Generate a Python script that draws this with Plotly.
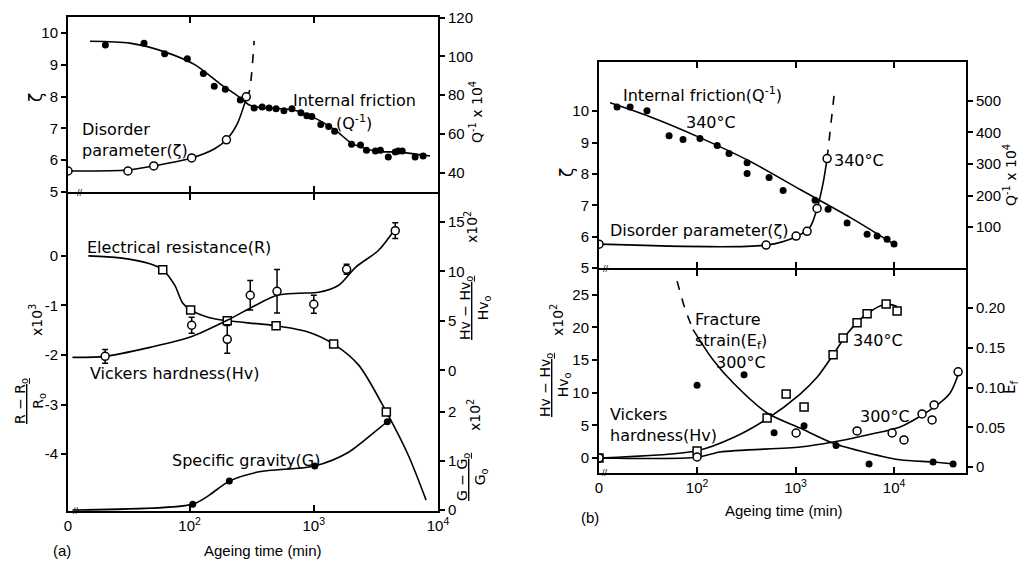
import math
import plotly.graph_objects as go

W, H = 1022, 563

# ---------------- time-axis zero positions (broken log axes) ----------------
A_ZERO = 10.5     # "0" on the ageing-time axis of panel (a)
B_ZERO = 10.1     # "0" on the ageing-time axis of panel (b)

# ======================= Panel (a), upper =======================
# internal friction Q^-1 (x1e4), filled dots, right axis
a_if_t = [21, 43, 63, 96, 129, 158, 194, 256, 331, 384, 437, 497, 575, 667, 787,
          879, 964, 1138, 1318, 1472, 2014, 2377, 2655, 3133, 3436, 3981, 4529,
          4786, 5152, 6546, 7586]
a_if_q = [105.8, 106.8, 101.3, 98.7, 91.1, 84.6, 83.0, 77.5, 73.4, 73.9, 73.4, 72.9,
          71.9, 72.9, 70.9, 69.4, 68.9, 64.8, 63.8, 61.3, 54.7, 54.2, 51.6, 51.1,
          51.6, 48.1, 50.6, 51.1, 51.1, 48.1, 48.6]
a_if_fit_t = [15.8, 33, 63, 110, 174, 251, 302, 398, 667, 964, 1500, 2014, 3133, 4786, 8630]
a_if_fit_q = [107.8, 106.8, 102.3, 95.7, 86.1, 79.0, 74.9, 73.4, 72.4, 68.9, 61.8, 55.2, 51.1, 50.6, 48.6]

# disorder parameter zeta, open circles, left axis
a_dp_t = [A_ZERO, 31.9, 51.5, 104, 198, 286]
a_dp_z = [5.66, 5.66, 5.82, 6.07, 6.64, 7.99]
a_dp_fit_t = [A_ZERO, 31.9, 51.5, 104, 158, 198, 242, 286]
a_dp_fit_z = [5.66, 5.69, 5.82, 6.07, 6.35, 6.64, 7.14, 7.95]
a_dp_dash_t = [286, 302, 331]
a_dp_dash_z = [7.95, 8.14, 9.75]

# ======================= Panel (a), lower =======================
# electrical resistance (R-R0)/R0 x1e3, open squares, left axis
a_er_t = [60.8, 102, 201, 497, 1445, 3837]
a_er_r = [-0.28, -1.09, -1.31, -1.41, -1.78, -3.15]
a_er_fit_t = [15.3, 27.5, 47.9, 60.8, 75.9, 87.9, 102, 145, 201, 497, 912, 1445, 2291, 3837, 5754, 8017]
a_er_fit_r = [0.0, -0.04, -0.16, -0.28, -0.59, -0.95, -1.09, -1.25, -1.31, -1.41, -1.54, -1.78, -2.2, -3.15, -4.02, -4.93]

# Vickers hardness (Hv-Hv0)/Hv0 x1e2, open circles with error bars
a_vh_t = [20.9, 104, 201, 308, 506, 1000, 1837, 4529]
a_vh_v = [1.41, 4.55, 3.13, 7.58, 7.98, 6.67, 10.2, 14.1]
a_vh_err = [0.7, 0.8, 1.4, 1.5, 2.2, 0.9, 0.5, 0.8]
a_vh_fit_t = [11.4, 20.9, 47.9, 100, 201, 331, 506, 759, 1096, 1585, 2168, 3311, 4529]
a_vh_fit_v = [1.31, 1.41, 2.32, 3.33, 5.05, 6.5, 7.58, 7.78, 7.88, 8.59, 10.4, 12.1, 14.3]

# specific gravity (G-G0)/G0 x1e2, filled dots
a_sg_t = [106, 209, 1019, 3908]
a_sg_g = [0.12, 0.59, 0.90, 1.80]
a_sg_fit_t = [11.4, 106, 145, 209, 363, 1019, 1905, 3908, 4209]
a_sg_fit_g = [0.0, 0.12, 0.31, 0.59, 0.78, 0.90, 1.18, 1.80, 1.84]

# ======================= Panel (b), upper =======================
b_if_t = [15.4, 20.9, 31, 52, 72, 107, 160, 211, 322, 322, 538, 747, 1578, 2138,
          3334, 5321, 6719, 8486, 9977]
b_if_q = [480, 480, 468, 389, 377, 380, 358, 333, 304, 270, 257, 216, 185, 157,
          113, 78, 72, 62, 47]
b_if_fit_t = [13.1, 33.3, 107, 345, 1112, 3575, 10720]
b_if_fit_q = [493, 449, 383, 308, 219, 131, 40]

b_dp_t = [B_ZERO, 502, 1012, 1309, 1653, 2089]
b_dp_z = [5.76, 5.73, 6.02, 6.17, 6.90, 8.49]
b_dp_fit_t = [B_ZERO, 502, 1012, 1400, 1653, 1900, 2089]
b_dp_fit_z = [5.76, 5.73, 6.0, 6.3, 6.9, 7.7, 8.49]
b_dp_dash_t = [2089, 2455]
b_dp_dash_z = [8.49, 10.49]

# ======================= Panel (b), lower =======================
# Vickers hardness 340 C, open squares
b_vh340_t = [B_ZERO, 100, 514, 802, 1219, 2404, 3036, 4209, 5321, 8298, 10723]
b_vh340_v = [0.0, 1.07, 6.13, 9.82, 7.82, 15.8, 18.4, 20.7, 22.1, 23.6, 22.5]
b_vh340_fit_t = [B_ZERO, 100, 240, 514, 1112, 1660, 2404, 3400, 5321, 8298, 10723]
b_vh340_fit_v = [0.0, 1.1, 3.2, 6.0, 9.8, 12.4, 15.8, 19.2, 22.1, 23.6, 23.2]

# Vickers hardness 300 C, open circles
b_vh300_t = [B_ZERO, 100, 1012, 4209, 9550, 12600, 19230, 24300, 25480, 44670]
b_vh300_v = [0.0, 0.15, 3.83, 4.14, 3.83, 2.76, 6.75, 5.83, 8.13, 13.2]
b_vh300_fit_t = [B_ZERO, 100, 171, 1112, 2404, 5321, 11500, 24890, 37070, 45700]
b_vh300_fit_v = [0.0, 0.1, 0.92, 1.69, 2.45, 3.53, 4.75, 7.67, 9.97, 13.2]

# fracture strain Ef 300 C, filled dots, right axis
b_fs_t = [100, 300, 605, 1219, 2576, 5572, 24890, 39720]
b_fs_e = [0.103, 0.116, 0.043, 0.052, 0.027, 0.0038, 0.0063, 0.0038]
b_fs_fit_t = [91, 145, 232, 514, 1112, 2404, 5321, 11500, 24890, 39720]
b_fs_fit_e = [0.173, 0.135, 0.106, 0.068, 0.049, 0.030, 0.018, 0.009, 0.0063, 0.0038]
b_fs_dash_t = [62.7, 75, 91]
b_fs_dash_e = [0.234, 0.20, 0.173]

# ---------------------------------------------------------------------------
FONT = "Liberation Sans"
LFONT = "DejaVu Sans"
fig = go.Figure()

def line(x, y, xa, ya, dash="solid"):
    fig.add_trace(go.Scatter(x=x, y=y, xaxis=xa, yaxis=ya, mode="lines",
                             line=dict(color="black", width=1.6, dash=dash, shape="spline", smoothing=0.8),
                             hoverinfo="skip"))

def pts(x, y, xa, ya, kind, err=None):
    if kind == "filled":
        m = dict(symbol="circle", size=7, color="black")
    elif kind == "circle":
        m = dict(symbol="circle", size=8, color="white", line=dict(color="black", width=1.5))
    else:
        m = dict(symbol="square", size=8, color="white", line=dict(color="black", width=1.5))
    kw = {}
    if err is not None:
        kw["error_y"] = dict(type="data", array=err, visible=True, color="black", thickness=1.5, width=3)
    fig.add_trace(go.Scatter(x=x, y=y, xaxis=xa, yaxis=ya, mode="markers", marker=m, **kw))

# panel (a) upper: x / y (zeta) / y2 (Q)
line(a_if_fit_t, a_if_fit_q, "x", "y2")
pts(a_if_t, a_if_q, "x", "y2", "filled")
line(a_dp_fit_t, a_dp_fit_z, "x", "y")
line(a_dp_dash_t, a_dp_dash_z, "x", "y", dash="dash")
pts(a_dp_t, a_dp_z, "x", "y", "circle")

# panel (a) lower: x2 / y3 (R) / y4 (Hv) / y5 (G)
line(a_er_fit_t, a_er_fit_r, "x2", "y3")
pts(a_er_t, a_er_r, "x2", "y3", "square")
line(a_vh_fit_t, a_vh_fit_v, "x2", "y4")
pts(a_vh_t, a_vh_v, "x2", "y4", "circle", err=a_vh_err)
line(a_sg_fit_t, a_sg_fit_g, "x2", "y5")
pts(a_sg_t, a_sg_g, "x2", "y5", "filled")

# panel (b) upper: x3 / y6 (zeta) / y7 (Q)
line(b_if_fit_t, b_if_fit_q, "x3", "y7")
pts(b_if_t, b_if_q, "x3", "y7", "filled")
line(b_dp_fit_t, b_dp_fit_z, "x3", "y6")
line(b_dp_dash_t, b_dp_dash_z, "x3", "y6", dash="dash")
pts(b_dp_t, b_dp_z, "x3", "y6", "circle")

# panel (b) lower: x4 / y8 (Hv) / y9 (Ef)
line(b_vh340_fit_t, b_vh340_fit_v, "x4", "y8")
pts(b_vh340_t, b_vh340_v, "x4", "y8", "square")
line(b_vh300_fit_t, b_vh300_fit_v, "x4", "y8")
pts(b_vh300_t, b_vh300_v, "x4", "y8", "circle")
line(b_fs_fit_t, b_fs_fit_e, "x4", "y9")
line(b_fs_dash_t, b_fs_dash_e, "x4", "y9", dash="dash")
pts(b_fs_t, b_fs_e, "x4", "y9", "filled")

# ---------------------------------------------------------------------------
def dx(x0, x1):
    return [x0 / W, x1 / W]

def dy(ytop, ybot):
    return [1 - ybot / H, 1 - ytop / H]

TF = dict(family=FONT, size=15, color="black")
SUP = lambda n: "10<sup>%d</sup>" % n

xbase = dict(type="log", showline=True, linewidth=2, linecolor="black", mirror="ticks",
             ticks="inside", ticklen=6, tickwidth=1.6, tickcolor="black", showgrid=False,
             zeroline=False, tickfont=TF, automargin=False)
ybase = dict(showline=True, linewidth=2, linecolor="black", ticks="outside", ticklen=5,
             tickwidth=1.6, tickcolor="black", showgrid=False, zeroline=False,
             tickfont=TF, automargin=False)

A_RANGE = [math.log10(A_ZERO), 4.0]
B_RANGE = [math.log10(B_ZERO), 4.73]
A_DX = dx(68, 438)
B_DX = dx(599, 966)

fig.update_layout(
    width=W, height=H, margin=dict(l=0, r=0, t=0, b=0),
    paper_bgcolor="white", plot_bgcolor="white", showlegend=False,
    font=dict(family=FONT, size=15, color="black"),
    xaxis=dict(xbase, domain=A_DX, anchor="y", range=A_RANGE, tickvals=[100, 1000, 10000],
               showticklabels=False),
    yaxis=dict(ybase, domain=dy(17, 192), anchor="x", range=[5, 10.5],
               tickvals=[5, 6, 7, 8, 9, 10]),
    yaxis2=dict(ybase, overlaying="y", side="right", anchor="x", range=[30, 120.3],
                tickvals=[40, 60, 80, 100, 120]),
    xaxis2=dict(xbase, domain=A_DX, anchor="y3", range=A_RANGE,
                tickvals=[A_ZERO, 100, 1000, 10000], ticktext=["0", SUP(2), SUP(3), SUP(4)]),
    yaxis3=dict(ybase, domain=dy(194, 511), anchor="x2", range=[-5.15, 1.25],
                tickvals=[-4, -3, -2, -1, 0], ticktext=["-4", "-3", "-2", "-1", "0"]),
    yaxis4=dict(ybase, overlaying="y3", side="right", anchor="x2", range=[-14.2, 17.8],
                tickvals=[0, 5, 10, 15]),
    yaxis5=dict(ybase, overlaying="y3", side="right", anchor="x2", range=[-0.02, 6.45],
                tickvals=[0, 1, 2]),
    xaxis3=dict(xbase, domain=B_DX, anchor="y6", range=B_RANGE, tickvals=[100, 1000, 10000],
                showticklabels=False),
    yaxis6=dict(ybase, domain=dy(62, 268), anchor="x3", range=[5, 11.57],
                tickvals=[5, 6, 7, 8, 9, 10]),
    yaxis7=dict(ybase, overlaying="y6", side="right", anchor="x3", range=[-29, 622],
                tickvals=[100, 200, 300, 400, 500]),
    xaxis4=dict(xbase, domain=B_DX, anchor="y8", range=B_RANGE,
                tickvals=[B_ZERO, 100, 1000, 10000], ticktext=["0", SUP(2), SUP(3), SUP(4)]),
    yaxis8=dict(ybase, domain=dy(270, 473), anchor="x4", range=[-2.3, 28.8],
                tickvals=[0, 5, 10, 15, 20, 25]),
    yaxis9=dict(ybase, overlaying="y8", side="right", anchor="x4", range=[-0.0076, 0.248],
                tickvals=[0, 0.05, 0.10, 0.15, 0.20], ticktext=["0", "0.05", "0.10", "0.15", "0.20"]),
)

# ---------------------------------------------------------------------------
anns = []

def text(s, x, y, xanchor="left", yanchor="middle", size=16, angle=0, align="left", family=LFONT):
    anns.append(dict(text=s, x=x / W, y=1 - y / H, xref="paper", yref="paper",
                     xanchor=xanchor, yanchor=yanchor, showarrow=False, textangle=angle,
                     align=align, font=dict(family=family, size=size, color="black")))

# panel (a)
text("Disorder<br>parameter(ζ)", 80, 140)
text("Internal friction", 291, 100)
text("(Q<sup>-1</sup>)", 354, 122, xanchor="center")
text("Electrical resistance(R)", 85, 247)
text("Vickers hardness(Hv)", 88, 373)
text("Specific gravity(G)", 170, 460)
text("(a)", 62, 550, xanchor="center", size=15, family=FONT)
text("Ageing time (min)", 263, 550, xanchor="center", size=15, family=FONT)
text("ζ", 36, 98, xanchor="center", angle=-90, size=17)
text("Q<sup>-1</sup> x 10<sup>4</sup>", 476, 112, xanchor="center", angle=-90, size=14)
text("<u>Hv − Hv<sub>o</sub></u><br>Hv<sub>o</sub>", 475, 308, xanchor="center", angle=-90, size=14, align="center")
text("x10<sup>2</sup>", 471, 227, xanchor="center", angle=-90, size=14)
text("<u>G − G<sub>o</sub></u><br>G<sub>o</sub>", 472, 477, xanchor="center", angle=-90, size=14, align="center")
text("x10<sup>2</sup>", 474, 415, xanchor="center", angle=-90, size=14)
text("<u>R − R<sub>o</sub></u><br>R<sub>o</sub>", 30, 401, xanchor="center", angle=-90, size=14, align="center")
text("x10<sup>3</sup>", 36, 320, xanchor="center", angle=-90, size=14)

# panel (b)
text("Internal friction(Q<sup>-1</sup>)", 621, 95)
text("340°C", 684, 122)
text("Disorder parameter(ζ)", 608, 230)
text("340°C", 832, 160)
text("Fracture<br>strain(E<sub>f</sub>)", 693, 331)
text("300°C", 714, 362)
text("Vickers<br>hardness(Hv)", 608, 425)
text("340°C", 851, 340)
text("300°C", 858, 416)
text("(b)", 590, 517, xanchor="center", size=15, family=FONT)
text("Ageing time (min)", 784, 510, xanchor="center", size=15, family=FONT)
text("ζ", 567, 173, xanchor="center", angle=-90, size=17)
text("Q<sup>-1</sup> x 10<sup>4</sup>", 1010, 175, xanchor="center", angle=-90, size=14)
text("E<sub>f</sub>", 1010, 388, xanchor="center", angle=-90, size=15)
text("<u>Hv − Hv<sub>o</sub></u><br>Hv<sub>o</sub>", 555, 385, xanchor="center", angle=-90, size=14, align="center")
text("x10<sup>2</sup>", 557, 320, xanchor="center", angle=-90, size=14)

# axis-break marks
for bx, by in [(80, 193), (76, 511), (606, 269), (605, 473)]:
    text("//", bx, by, xanchor="center", size=9, family=FONT)

fig.update_layout(annotations=anns)
fig.write_html("out.html")
